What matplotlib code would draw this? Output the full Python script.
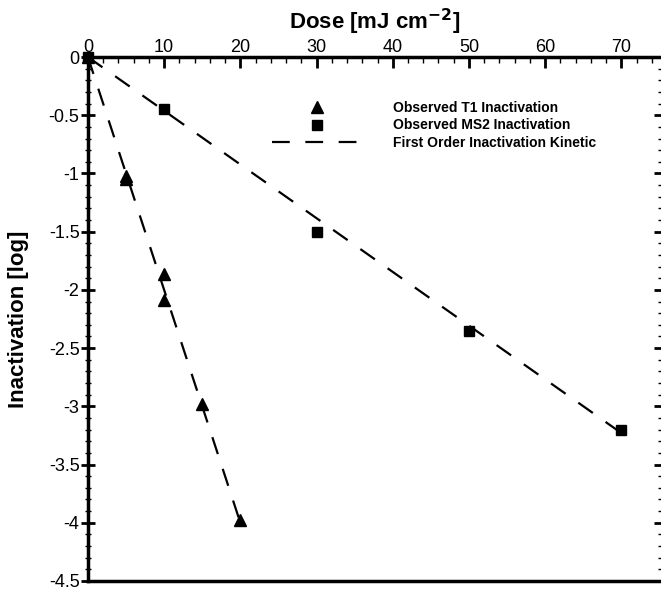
import matplotlib
matplotlib.use("Agg")
import matplotlib.pyplot as plt
from matplotlib.ticker import MultipleLocator, FuncFormatter

plt.rcParams["font.family"] = ["Liberation Sans", "DejaVu Sans"]
plt.rcParams["axes.unicode_minus"] = False
plt.rcParams["mathtext.default"] = "bf"

# observed data
T1_DOSE = [0, 5, 5, 10, 10, 15, 20]
T1_LOG = [0, -1.02, -1.05, -1.86, -2.09, -2.98, -3.98]
MS2_DOSE = [0, 10, 30, 50, 70]
MS2_LOG = [0, -0.45, -1.50, -2.35, -3.20]

# first order fits
T1_FIT_DOSE = [0, 20]
T1_FIT_LOG = [0, -4.0]
MS2_FIT_DOSE = [0, 70]
MS2_FIT_LOG = [0, -3.23]

Y_TICKS = [0, -0.5, -1, -1.5, -2, -2.5, -3, -3.5, -4, -4.5]

fig = plt.figure(figsize=(6.61, 5.94), dpi=100)
ax = fig.add_axes([0.133, 0.022, 0.867, 0.882])

dash = (0, (8, 7))
ax.plot(T1_FIT_DOSE, T1_FIT_LOG, color="black", linestyle=dash, linewidth=1.6)
ax.plot(MS2_FIT_DOSE, MS2_FIT_LOG, color="black", linestyle=dash, linewidth=1.6,
        label="First Order Inactivation Kinetic")
ax.plot(T1_DOSE, T1_LOG, linestyle="none", marker="^", color="black", markersize=8,
        clip_on=False, label="Observed T1 Inactivation")
ax.plot(MS2_DOSE, MS2_LOG, linestyle="none", marker="s", color="black", markersize=7,
        clip_on=False, label="Observed MS2 Inactivation")

ax.set_xlim(0, 75.2)
ax.set_ylim(-4.5, 0)
ax.xaxis.set_major_locator(MultipleLocator(10))
ax.xaxis.set_minor_locator(MultipleLocator(2))
ax.set_yticks(Y_TICKS)
ax.yaxis.set_minor_locator(MultipleLocator(0.1))
ax.yaxis.set_major_formatter(FuncFormatter(lambda v, p: f"{v:g}"))

ax.xaxis.tick_top()
ax.xaxis.set_label_position("top")
ax.tick_params(axis="x", which="major", direction="in", length=8, width=2,
               top=True, bottom=False, labelsize=13, pad=1)
ax.tick_params(axis="x", which="minor", direction="in", length=4, width=1,
               top=True, bottom=False)
ax.tick_params(axis="y", which="major", direction="inout", length=10, width=2,
               left=True, right=True, labelsize=13, pad=1)
ax.tick_params(axis="y", which="minor", direction="inout", length=5, width=1,
               left=True, right=True)

for side in ["top", "left", "bottom"]:
    ax.spines[side].set_linewidth(2.5)
ax.spines["right"].set_visible(False)

ax.set_xlabel("Dose [mJ cm$^{-2}$]", fontsize=16, fontweight="bold", labelpad=7)
ax.set_ylabel("Inactivation [log]", fontsize=16, fontweight="bold", labelpad=14)

handles, labels = ax.get_legend_handles_labels()
order = [1, 2, 0]
ax.legend([handles[i] for i in order], [labels[i] for i in order],
          loc="upper left", bbox_to_anchor=(0.30, 0.94), frameon=False,
          prop={"size": 10, "weight": "bold"}, handlelength=6.5,
          handletextpad=2.2, labelspacing=0.25)

fig.savefig("out.png", dpi=100)
